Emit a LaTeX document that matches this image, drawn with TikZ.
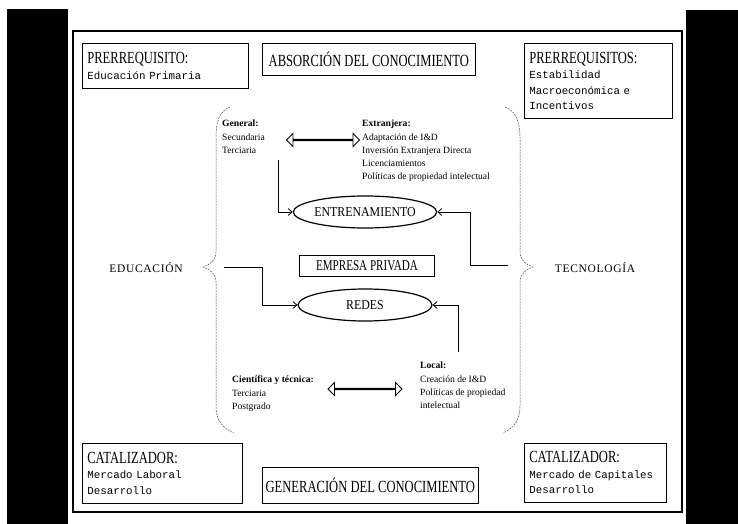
\documentclass[tikz,border=0pt]{standalone}
\usepackage{fontspec}
\setmainfont{Liberation Serif}
\newfontfamily\titlef[FakeStretch=0.74]{Liberation Serif}
\newfontfamily\monof{Liberation Mono}
\newfontfamily\capsf[FakeStretch=0.88]{Liberation Serif}
\newfontfamily\spacedf[LetterSpace=6]{Liberation Serif}
\usetikzlibrary{shapes.geometric,shapes.arrows,arrows.meta}
\tikzset{
  frame/.style={draw, line width=1.2pt},
  infobox/.style={draw, line width=0.7pt, anchor=north west, inner sep=5pt, align=left,
    font=\monof\fontsize{10.8}{15.5}\selectfont},
  titlebox/.style={draw, line width=0.7pt, anchor=north west, inner sep=0pt,
    font=\titlef\fontsize{17}{17}\selectfont},
  listtext/.style={anchor=north west, inner sep=0pt, align=left,
    font=\fontsize{9.6}{13.2}\selectfont},
  ell/.style={ellipse, draw, line width=1.2pt, inner sep=0pt,
    font=\capsf\fontsize{13.5}{14}\selectfont},
  dblarrow/.style={double arrow, draw, line width=0.9pt, inner sep=0pt,
    minimum width=13pt, double arrow head extend=4pt},
  brace/.style={draw=black!70, line width=0.5pt, dash pattern=on 2pt off 1pt},
  conn/.style={draw, line width=0.8pt, -{Straight Barb[length=4pt,width=7pt]}},
  sidelabel/.style={inner sep=0pt, font=\spacedf\fontsize{11.5}{13}\selectfont}
}
\begin{document}
\begin{tikzpicture}[x=1pt,y=-1pt]
\useasboundingbox (0,0) rectangle (738,524);
% black scan borders
\fill[black] (7,9) rectangle (68,524);
\fill[black] (686,10) rectangle (738,524);
% outer frame
\draw[frame] (73,31) rectangle (682,512);

% corner boxes
\node[infobox, minimum width=166pt, minimum height=45pt, text width=156pt] (pre1) at (82,43)
  {{\titlef\fontsize{17}{17}\selectfont PRERREQUISITO:}\\Educación Primaria};
\node[infobox, minimum width=148pt, minimum height=75pt, text width=138pt] (pre2) at (524,43)
  {{\titlef\fontsize{17}{17}\selectfont PRERREQUISITOS:}\\Estabilidad\\Macroeconómica e\\Incentivos};
\node[infobox, minimum width=160pt, minimum height=60pt, text width=150pt] (cat1) at (82,443)
  {{\titlef\fontsize{17}{17}\selectfont CATALIZADOR:}\\Mercado Laboral\\Desarrollo};
\node[infobox, minimum width=142pt, minimum height=59pt, text width=132pt] (cat2) at (524,443)
  {{\titlef\fontsize{17}{17}\selectfont CATALIZADOR:}\\Mercado de Capitales\\Desarrollo};

% title boxes
\node[titlebox, minimum width=213pt, minimum height=32pt] (abs) at (262,43) {ABSORCIÓN DEL CONOCIMIENTO};
\node[titlebox, minimum width=216pt, minimum height=36pt] (gen) at (262,467) {GENERACIÓN DEL CONOCIMIENTO};

% braces
\path[brace] (230,107) .. controls (220,111) and (216,120) .. (216,138) -- (216,252)
  .. controls (216,260) and (210,265) .. (203,267) .. controls (210,269) and (216,274) .. (216,282)
  -- (216,406) .. controls (216,420) and (222,428) .. (234,433);
\path[brace] (505,107) .. controls (515,111) and (520,120) .. (520,138) -- (520,252)
  .. controls (520,260) and (526,265) .. (533,267) .. controls (526,269) and (520,274) .. (520,282)
  -- (520,406) .. controls (520,420) and (514,428) .. (503,433);

% side labels
\node[sidelabel] (edu) at (146,268) {EDUCACIÓN};
\node[sidelabel] (tec) at (595,268) {TECNOLOGÍA};

% text lists
\node[listtext] (gral) at (222,120) {\textbf{General:}\\Secundaria\\Terciaria};
\node[listtext] (ext) at (362,120) {\textbf{Extranjera:}\\Adaptación de I\&D\\Inversión Extranjera Directa\\Licenciamientos\\Políticas de propiedad intelectual};
\node[listtext] (cien) at (232,376) {\textbf{Científica y técnica:}\\Terciaria\\Postgrado};
\node[listtext] (loc) at (420,362) {\textbf{Local:}\\Creación de I\&D\\Políticas de propiedad\\intelectual};

% double arrows
\node[dblarrow, minimum height=73pt] (da1) at (323,140) {};
\node[dblarrow, minimum height=74pt] (da2) at (365,389) {};

% center nodes
\node[ell, minimum width=134pt, minimum height=32pt] (entr) at (365,212) {ENTRENAMIENTO};
\node[draw, line width=0.9pt, minimum width=135pt, minimum height=21pt, inner sep=0pt,
  font=\titlef\fontsize{15}{15}\selectfont] (emp) at (367,266) {EMPRESA PRIVADA};
\node[ell, minimum width=134pt, minimum height=32pt] (redes) at (365,305) {REDES};

% connectors
\coordinate (c1) at (278,160);
\coordinate (c2) at (224,267);
\coordinate (c3) at (508,265);
\coordinate (c4) at (458,352);
\path[conn] (c1) |- (entr.west);
\path[conn] (c2) -- (262,267) |- (redes.west);
\path[conn] (c3) -- (470,265) |- (entr.east);
\path[conn] (c4) |- (redes.east);
\end{tikzpicture}
\end{document}
